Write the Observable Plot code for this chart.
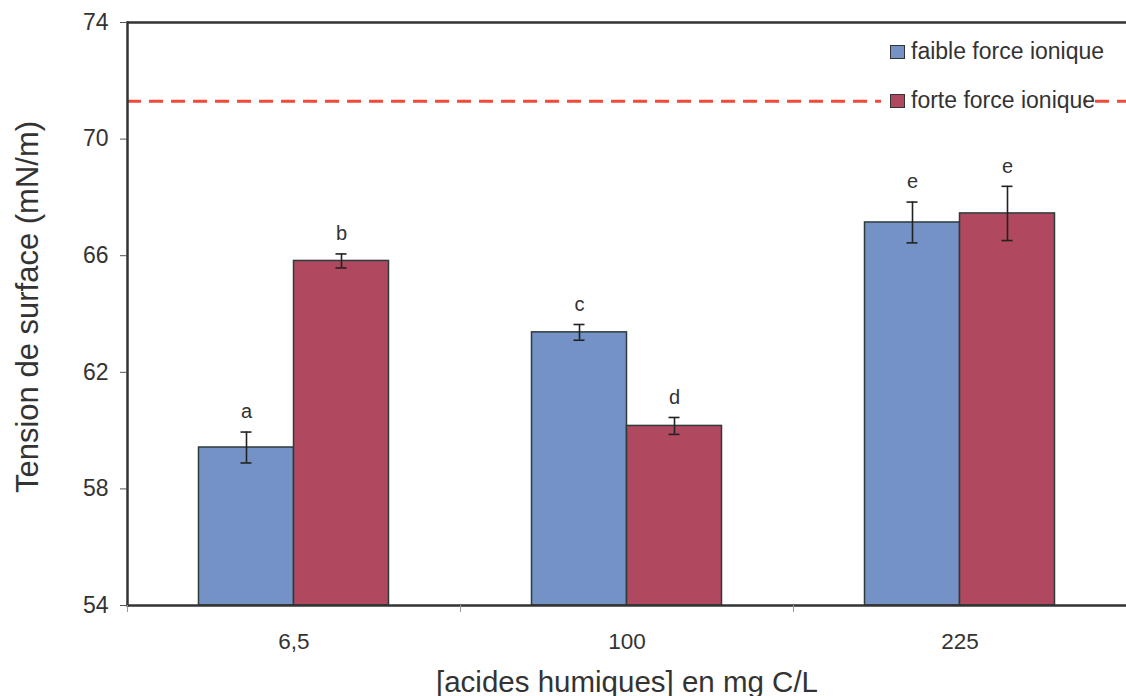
<!DOCTYPE html>
<html>
<head>
<meta charset="utf-8">
<script src="https://cdn.jsdelivr.net/npm/d3@7"></script>
<script src="https://cdn.jsdelivr.net/npm/@observablehq/plot@0.6"></script>
<style>
  html, body { margin: 0; padding: 0; background: #fff; }
  #wrap { position: relative; width: 1126px; height: 696px; overflow: hidden; font-family: "Liberation Sans", Arial, sans-serif; color: #333; }
  #legend { position: absolute; left: 881px; top: 32px; width: 204px; height: 88px; background: #fff; }
  .item { position: absolute; left: 9px; display: flex; align-items: center; white-space: nowrap; font-size: 23px; color: #333; }
  .sw { width: 13px; height: 12px; border: 1.5px solid #333; margin-right: 6px; }
</style>
</head>
<body>
<div id="wrap"></div>
<script>
// ---- data ----
const groups = ["6,5", "100", "225"];
const series = ["faible force ionique", "forte force ionique"];
const faibleValues = [59.42, 63.37, 67.14];
const faibleErrors = [0.53, 0.27, 0.70];
const faibleLetters = ["a", "c", "e"];
const forteValues = [65.82, 60.16, 67.45];
const forteErrors = [0.24, 0.29, 0.93];
const forteLetters = ["b", "d", "e"];
const yTicks = [54, 58, 62, 66, 70, 74];
const referenceLine = [71.3];
const xTitle = "[acides humiques] en mg C/L";
const yTitle = "Tension de surface (mN/m)";

// ---- style ----
const colors = ["#7492c6", "#b0485f"];
const W = 1126, H = 696, mL = 127, mR = 0, mT = 22, mB = 91;
const bw = (W - mL - mR) / groups.length;
const barW = 95;
const capW = 11;

const seriesData = [
  groups.map((g, i) => ({group: g, value: faibleValues[i], err: faibleErrors[i], letter: faibleLetters[i]})),
  groups.map((g, i) => ({group: g, value: forteValues[i], err: forteErrors[i], letter: forteLetters[i]}))
];

const marks = [];
seriesData.forEach((rows, s) => {
  const dx = (s === 0 ? -1 : 1) * barW / 2;
  marks.push(
    Plot.barY(rows, {x: "group", y1: yTicks[0], y2: "value", fill: colors[s], stroke: "#2e3b3b", strokeWidth: 1.5,
      insetLeft: (bw - barW) / 2, insetRight: (bw - barW) / 2, dx}),
    Plot.ruleX(rows, {x: "group", y1: d => d.value - d.err, y2: d => d.value + d.err, dx, stroke: "#222", strokeWidth: 1.6}),
    Plot.tickY(rows, {x: "group", y: d => d.value + d.err, dx, stroke: "#222", strokeWidth: 1.6,
      insetLeft: (bw - capW) / 2, insetRight: (bw - capW) / 2}),
    Plot.tickY(rows, {x: "group", y: d => d.value - d.err, dx, stroke: "#222", strokeWidth: 1.6,
      insetLeft: (bw - capW) / 2, insetRight: (bw - capW) / 2}),
    Plot.text(rows, {x: "group", y: d => d.value + d.err, text: "letter", dx, dy: -20, fontSize: 20, fill: "#333"})
  );
});

const chart = Plot.plot({
  width: W, height: H,
  marginLeft: mL, marginRight: mR, marginTop: mT, marginBottom: mB,
  style: {fontFamily: "'Liberation Sans', Arial, sans-serif", color: "#333", background: "#fff", overflow: "visible"},
  x: {type: "band", domain: groups, padding: 0},
  y: {domain: [yTicks[0], yTicks[yTicks.length - 1]]},
  marks: [
    ...marks,
    Plot.ruleY(referenceLine, {stroke: "#ef4a3a", strokeWidth: 3, strokeDasharray: "14,8"}),
    Plot.ruleY([yTicks[0], yTicks[yTicks.length - 1]], {stroke: "#333", strokeWidth: 2.5}),
    Plot.frame({anchor: "left", stroke: "#333", strokeWidth: 2.5}),
    Plot.axisY({ticks: yTicks, tickSize: 7, tickPadding: 12, fontSize: 23, label: null, stroke: "#555"}),
    Plot.axisX({tickSize: 0, tickPadding: 28, fontSize: 22.5, label: null}),
    Plot.axisX({tickSize: 7, tickFormat: () => "", dx: -bw / 2, label: null, stroke: "#999"}),
    Plot.text([yTitle], {text: d => d, frameAnchor: "left", textAnchor: "middle", dx: -99, dy: -7, rotate: -90, fontSize: 31, fill: "#333"}),
    Plot.text([xTitle], {text: d => d, frameAnchor: "bottom", textAnchor: "middle", dy: 86, fontSize: 29.5, fill: "#333"})
  ]
});

const wrap = document.getElementById("wrap");
wrap.appendChild(chart);

const legend = document.createElement("div");
legend.id = "legend";
series.forEach((name, i) => {
  const item = document.createElement("div");
  item.className = "item";
  item.style.top = (i === 0 ? 6 : 55) + "px";
  const sw = document.createElement("div");
  sw.className = "sw";
  sw.style.background = colors[i];
  const label = document.createElement("span");
  label.textContent = name;
  item.appendChild(sw);
  item.appendChild(label);
  legend.appendChild(item);
});
wrap.appendChild(legend);
</script>
</body>
</html>
